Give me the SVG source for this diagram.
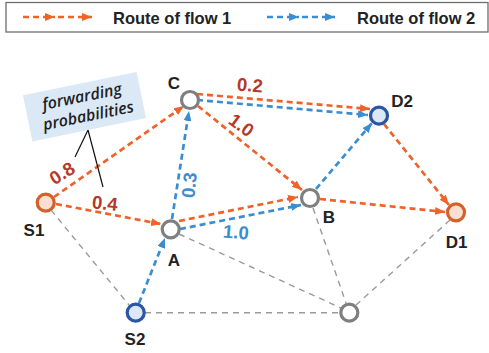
<svg xmlns="http://www.w3.org/2000/svg" width="489" height="353" viewBox="0 0 489 353">
  <defs>
    <marker id="arrOrange" viewBox="0 0 10 8" refX="10" refY="4" markerWidth="10" markerHeight="8" markerUnits="userSpaceOnUse" orient="auto">
      <path d="M0,0 L10,4 L0,8 z" fill="#f0622a"/>
    </marker>
    <marker id="arrBlue" viewBox="0 0 10 8" refX="10" refY="4" markerWidth="10" markerHeight="8" markerUnits="userSpaceOnUse" orient="auto">
      <path d="M0,0 L10,4 L0,8 z" fill="#3a8dd0"/>
    </marker>
  </defs>
  <style>
    .f1 { fill: none; stroke: #f0622a; stroke-width: 2.7; stroke-dasharray: 6 4; marker-end: url(#arrOrange); }
    .f2 { fill: none; stroke: #3a8dd0; stroke-width: 2.7; stroke-dasharray: 6 4; marker-end: url(#arrBlue); }
    .link { fill: none; stroke: #9a9a9a; stroke-width: 1.4; stroke-dasharray: 6 5; }
    .relay { fill: #ffffff; stroke: #7f7f7f; stroke-width: 3.2; }
    .src1 { fill: #fbe0d2; stroke: #d0622a; stroke-width: 3.2; }
    .src2 { fill: #dce8f5; stroke: #2b56a3; stroke-width: 3.2; }
    .name { font-family: "Liberation Sans", Arial, sans-serif; font-weight: bold; font-size: 17px; fill: #222222; text-anchor: middle; }
    .legend { font-family: "Liberation Sans", Arial, sans-serif; font-weight: bold; font-size: 16.5px; fill: #222222; }
    .p1 { font-family: "Liberation Sans", Arial, sans-serif; font-weight: bold; font-size: 18.5px; fill: #b5382a; text-anchor: middle; }
    .p2 { font-family: "Liberation Sans", Arial, sans-serif; font-weight: bold; font-size: 18.5px; fill: #3a8dd0; text-anchor: middle; }
    .note { font-family: "Open Sans", "DejaVu Sans", sans-serif; font-style: italic; font-weight: 600; font-size: 16px; fill: #222222; text-anchor: middle; }
  </style>

  <!-- legend -->
  <g id="legend">
    <rect x="6" y="2.5" width="482" height="29.5" fill="#ffffff" stroke="#6e6e6e" stroke-width="1.3"/>
    <path class="f1" d="M23,17 L55,17"/>
    <path class="f1" d="M58,17 L92,17"/>
    <text class="legend" x="113" y="24">Route of flow 1</text>
    <path class="f2" d="M267,17 L299,17"/>
    <path class="f2" d="M302,17 L335,17"/>
    <text class="legend" x="357" y="24">Route of flow 2</text>
  </g>

  <!-- connectors -->
  <g id="connectors">
    <!-- plain links -->
    <path class="link" d="M51,210 L129,305"/>
    <path class="link" d="M179,234 L341,308"/>
    <path class="link" d="M313,208 L346,303"/>
    <path class="link" d="M145,312.7 L339,312.7"/>
    <path class="link" d="M450,220 L356,305"/>
    <!-- flow 1 -->
    <path class="f1" d="M54,197 L184,106"/>
    <path class="f1" d="M56,204 L161,224"/>
    <path class="f1" d="M179,221 L298,197"/>
    <path class="f1" d="M198,106 L302,190"/>
    <path class="f1" d="M197,94 L370,109"/>
    <path class="f1" d="M320,199 L445,212"/>
    <path class="f1" d="M384,124 L449,205"/>
    <!-- flow 2 -->
    <path class="f2" d="M139,303 L165,238"/>
    <path class="f2" d="M172,219 L189,111"/>
    <path class="f2" d="M180,229 L301,205"/>
    <path class="f2" d="M197,100 L368,115"/>
    <path class="f2" d="M316,189 L372,123"/>
  </g>

  <!-- forwarding probability labels -->
  <g id="probabilities">
    <text class="p1" transform="translate(62,173) rotate(-32)" y="6.6">0.8</text>
    <text class="p1" transform="translate(105,203) rotate(6)" y="6.6">0.4</text>
    <text class="p1" transform="translate(250,85) rotate(5)" y="6.6">0.2</text>
    <text class="p1" transform="translate(241.5,125) rotate(36)" y="6.6">1.0</text>
    <text class="p2" transform="translate(189,185) rotate(-84)" y="6.6">0.3</text>
    <text class="p2" transform="translate(236,232) rotate(5)" y="6.6">1.0</text>
  </g>

  <!-- callout -->
  <g id="callout">
    <line x1="88" y1="130" x2="75" y2="157" stroke="#111111" stroke-width="1.2"/>
    <line x1="88" y1="130" x2="103" y2="187" stroke="#111111" stroke-width="1.2"/>
    <g transform="translate(84.5,106.7) rotate(-11.6)">
      <rect x="-58" y="-23.5" width="116" height="47" fill="#dbe9f6"/>
      <text class="note" x="-0.5" y="-5">forwarding</text>
      <text class="note" x="2" y="15">probabilities</text>
    </g>
  </g>

  <!-- nodes -->
  <g id="S1"><circle class="src1" cx="45.7" cy="202.7" r="8.5"/><text class="name" x="34" y="236">S1</text></g>
  <g id="S2"><circle class="src2" cx="135.7" cy="312.7" r="8.5"/><text class="name" x="135" y="345">S2</text></g>
  <g id="A"><circle class="relay" cx="170.7" cy="229.3" r="8.5"/><text class="name" x="174" y="265.5">A</text></g>
  <g id="B"><circle class="relay" cx="310" cy="198" r="8.5"/><text class="name" x="329" y="222.5">B</text></g>
  <g id="C"><circle class="relay" cx="190" cy="100" r="8.5"/><text class="name" x="174" y="88.5">C</text></g>
  <g id="D1"><circle class="src1" cx="456" cy="212.3" r="8.5"/><text class="name" x="456.5" y="248">D1</text></g>
  <g id="D2"><circle class="src2" cx="379" cy="115.7" r="8.5"/><text class="name" x="402" y="106.5">D2</text></g>
  <g id="N"><circle class="relay" cx="349.3" cy="312.7" r="8.5"/></g>
</svg>
